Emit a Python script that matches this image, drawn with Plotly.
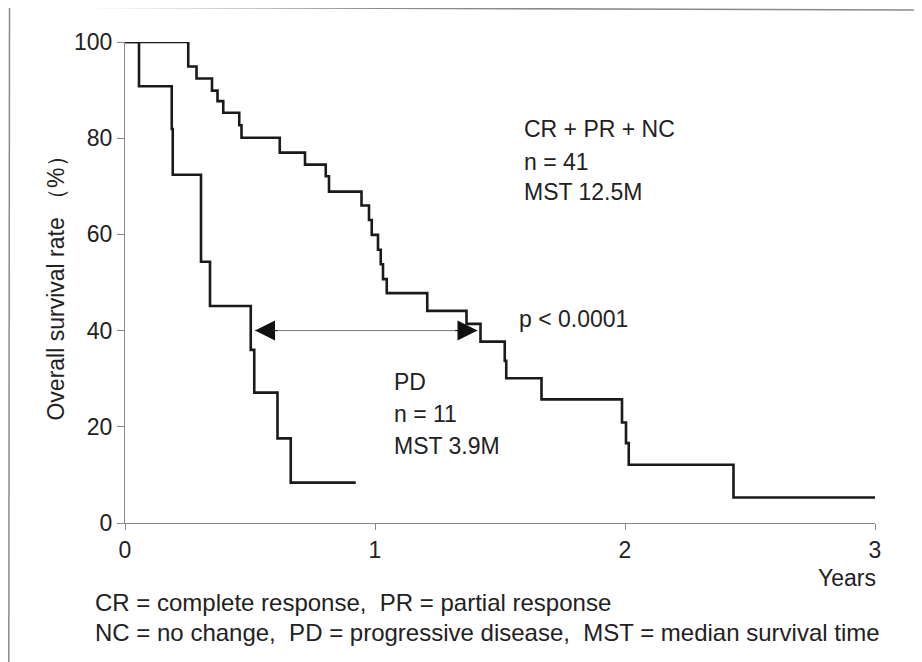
import plotly.graph_objects as go

# ---- data ----
cr_t = [0, 0.253, 0.286, 0.348, 0.370, 0.393, 0.457, 0.466, 0.619, 0.720, 0.803, 0.816,
        0.946, 0.976, 0.987, 1.012, 1.023, 1.032, 1.047, 1.209, 1.366, 1.422, 1.519, 1.525,
        1.666, 1.988, 2.004, 2.015, 2.434, 3.0]
cr_s = [100, 94.9, 92.4, 89.9, 87.7, 85.3, 82.7, 80.1, 77.0, 74.5, 72.1, 68.9,
        66.0, 63.0, 59.9, 56.8, 53.8, 50.7, 47.8, 44.1, 41.4, 37.7, 33.7, 30.1,
        25.7, 20.9, 16.6, 12.1, 5.3, 5.3]

pd_t = [0, 0.056, 0.187, 0.191, 0.304, 0.340, 0.503, 0.517, 0.610, 0.663, 0.923]
pd_s = [100, 90.8, 81.9, 72.4, 54.3, 45.1, 36.0, 27.1, 17.6, 8.4, 8.4]

arrow_x = [0.52, 1.41]
arrow_y = 40

x_ticks = [0, 1, 2, 3]
y_ticks = [0, 20, 40, 60, 80, 100]

FONT = "Liberation Sans, Arial, sans-serif"
TXT = "#222222"
FS = 23

fig = go.Figure()
fig.add_trace(go.Scatter(x=cr_t, y=cr_s, mode="lines", line=dict(shape="hv", color="#1a1a1a", width=2.6),
                         showlegend=False, hoverinfo="skip"))
fig.add_trace(go.Scatter(x=pd_t, y=pd_s, mode="lines", line=dict(shape="hv", color="#1a1a1a", width=2.6),
                         showlegend=False, hoverinfo="skip"))
# arrow shaft
fig.add_trace(go.Scatter(x=arrow_x, y=[arrow_y, arrow_y], mode="lines", line=dict(color="#777777", width=1),
                         showlegend=False, hoverinfo="skip"))

# arrow heads
for xe, dx in [(arrow_x[0], 24), (arrow_x[1], -24)]:
    fig.add_annotation(x=xe, y=arrow_y, ax=dx, ay=0, axref="pixel", ayref="pixel", text="",
                       showarrow=True, arrowhead=2, arrowsize=4.0, arrowwidth=1, arrowcolor="#111111",
                       standoff=0)

texts = [
    (1.588, 81.9, "CR + PR + NC"),
    (1.588, 75.0, "n = 41"),
    (1.588, 68.8, "MST 12.5M"),
    (1.566, 42.4, "p < 0.0001"),
    (1.068, 29.3, "PD"),
    (1.068, 22.7, "n = 11"),
    (1.068, 16.0, "MST 3.9M"),
]
for x, y, t in texts:
    fig.add_annotation(x=x, y=y, text=t, showarrow=False, xanchor="left", yanchor="middle",
                       font=dict(family=FONT, size=FS, color=TXT))


def px(xp):
    return (xp - 125) / 750


def py(yp):
    return (523 - yp) / 481


fig.add_annotation(x=px(878), xref="paper", y=py(578), yref="paper", text="Years", showarrow=False,
                   xanchor="right", yanchor="middle", font=dict(family=FONT, size=FS, color=TXT))
fig.add_annotation(x=px(93), xref="paper", y=py(602), yref="paper",
                   text="CR = complete response,  PR = partial response", showarrow=False,
                   xanchor="left", yanchor="middle", font=dict(family=FONT, size=24, color=TXT))
fig.add_annotation(x=px(93), xref="paper", y=py(632), yref="paper",
                   text="NC = no change,  PD = progressive disease,  MST = median survival time", showarrow=False,
                   xanchor="left", yanchor="middle", font=dict(family=FONT, size=24, color=TXT))

# frame lines
fig.add_shape(type="line", xref="paper", yref="paper", x0=px(9.5), y0=py(7), x1=px(925), y1=py(10),
              line=dict(color="#8a8a8a", width=1.5))
fig.add_shape(type="line", xref="paper", yref="paper", x0=px(9.5), y0=py(7), x1=px(8.8), y1=py(665),
              line=dict(color="#8a8a8a", width=1.5))

# page body has an 8px margin, so figure is 8px smaller than the window
fig.update_layout(
    width=914, height=654,
    margin=dict(l=117, r=47, t=34, b=139),
    paper_bgcolor="white", plot_bgcolor="white",
    font=dict(family=FONT, size=FS, color=TXT),
    xaxis=dict(range=[0, 3], tickvals=x_ticks, ticktext=[str(v) for v in x_ticks], showgrid=False, zeroline=False,
               showline=True, linecolor="#888888", linewidth=1, ticks="outside", ticklen=6, tickcolor="#888888",
               tickfont=dict(family=FONT, size=FS, color=TXT)),
    yaxis=dict(range=[0, 100], tickvals=y_ticks, showgrid=False, zeroline=False,
               showline=True, linecolor="#888888", linewidth=1, ticks="outside", ticklen=7, tickcolor="#888888",
               tickfont=dict(family=FONT, size=FS, color=TXT), automargin=False,
               title=dict(text="Overall survival rate （%）", font=dict(family=FONT, size=FS, color=TXT), standoff=2)),
)

fig.write_html("out.html")
